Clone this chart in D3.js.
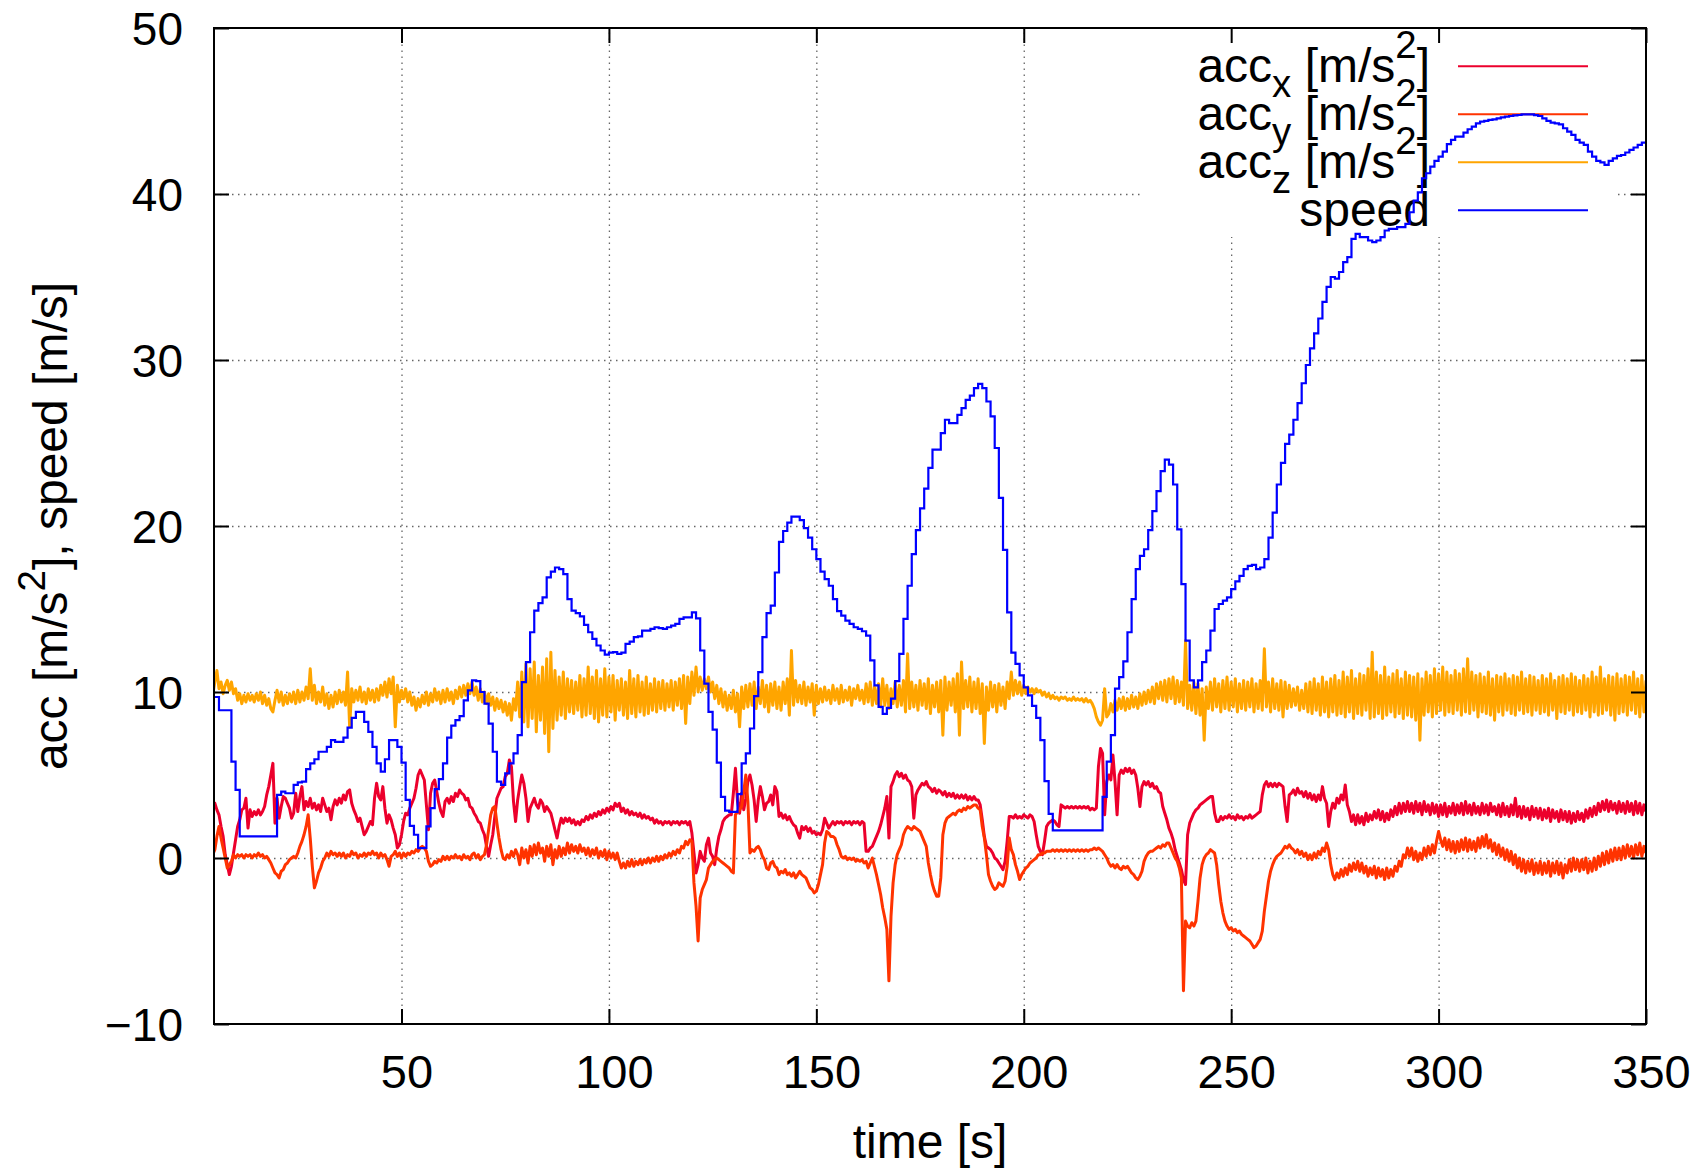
<!DOCTYPE html>
<html><head><meta charset="utf-8">
<script src="https://cdn.jsdelivr.net/npm/d3@7"></script>
<style>
html,body{margin:0;padding:0;background:#fff;}
svg{display:block;}
text{font-family:"Liberation Sans",Arial,Helvetica,sans-serif;fill:#000;}
</style></head><body>
<svg id="chart" width="1702" height="1172"></svg>
<script>
// ---------------- DATA ----------------
// accelerations sampled every 0.5 s starting at t = 4.5 s
const accT0 = 4.5, accStep = 0.5;
const accX = [
3.0,3.3,2.9,2.6,1.9,1.3,0.2,-0.4,-1.0,-0.5,0.3,1.1,1.9,2.3,2.9,3.0,3.6,1.8,2.9,2.5,
2.8,2.6,2.9,2.6,2.8,3.1,3.8,4.3,5.0,5.7,2.1,3.6,2.4,3.1,3.7,3.6,3.3,3.0,2.4,2.7,
3.9,2.8,3.7,4.3,2.9,3.4,3.1,3.6,3.0,3.3,2.9,3.2,2.8,3.6,3.2,2.8,3.0,2.3,3.1,3.5,
3.2,3.6,3.3,3.8,3.5,4.0,4.1,3.3,2.9,2.6,2.2,2.4,1.9,1.4,1.6,1.9,2.2,2.0,3.6,4.5,
3.7,3.5,4.3,3.0,2.1,2.6,2.3,1.8,1.4,0.6,0.8,1.4,2.2,2.7,2.6,3.0,3.3,3.6,4.2,5.0,
5.3,5.0,4.7,3.2,1.7,3.9,4.5,4.7,4.0,3.3,2.8,2.5,3.4,3.6,3.3,3.7,3.4,3.9,3.7,4.1,
3.9,3.8,3.5,3.6,3.1,3.0,2.7,2.5,2.2,2.1,1.7,1.4,0.7,0.1,0.8,1.4,2.5,3.6,3.9,4.2,
4.3,4.9,5.1,5.9,5.5,3.4,2.2,3.5,4.3,5.0,4.5,3.6,2.2,3.0,3.3,3.6,3.2,3.0,3.5,3.3,
2.8,3.1,2.9,2.7,2.2,1.7,1.2,1.9,2.4,2.1,2.4,2.2,2.4,2.1,2.3,2.0,2.2,2.0,2.3,2.2,
2.5,2.3,2.6,2.4,2.7,2.5,2.8,2.6,2.9,2.7,3.0,2.8,3.1,2.9,3.3,3.1,3.3,2.8,3.0,2.7,
2.9,2.6,2.8,2.6,2.7,2.5,2.7,2.4,2.6,2.4,2.5,2.3,2.4,2.1,2.3,2.1,2.2,2.0,2.2,2.1,
2.2,2.0,2.2,2.1,2.2,2.0,2.2,2.1,2.2,2.0,2.2,1.5,0.3,-0.9,-0.4,0.4,0.0,-0.2,0.8,1.2,
0.3,0.1,-0.4,0.6,1.3,1.7,2.2,2.4,2.5,2.6,2.6,3.9,5.4,3.4,2.7,3.9,2.9,3.6,4.6,5.0,
4.4,3.5,2.2,3.5,4.3,3.7,2.9,3.3,3.4,3.8,3.2,4.3,4.0,2.5,2.7,2.4,2.6,2.3,2.5,2.2,
2.0,1.9,1.5,1.2,1.9,1.7,1.9,1.6,1.8,1.5,1.6,1.4,1.5,1.4,1.7,2.4,2.1,1.8,2.0,2.2,
2.0,2.2,2.1,2.2,2.0,2.2,2.1,2.2,2.0,2.2,2.1,2.2,2.0,2.2,2.1,0.4,0.4,0.6,0.7,1.0,
1.3,1.6,2.0,2.5,3.0,3.7,1.2,4.3,4.6,5.0,5.2,4.9,5.1,4.8,5.0,4.7,4.6,4.3,2.4,3.8,
4.1,4.3,4.5,4.4,4.6,4.3,4.2,4.0,4.2,3.9,4.1,4.0,3.8,4.0,3.7,3.9,3.7,3.9,3.6,3.8,
3.6,3.8,3.6,3.8,3.5,3.7,3.5,3.7,3.5,3.5,3.2,2.3,1.3,0.7,0.6,0.5,0.3,0.0,-0.1,-0.3,
-0.5,-0.7,-0.2,1.0,2.5,2.5,2.4,2.6,2.4,2.5,2.4,2.6,2.5,2.4,2.6,2.5,2.2,1.4,0.7,0.4,
0.2,1.0,1.9,2.1,2.2,2.3,2.2,2.0,1.9,3.2,3.1,3.0,3.1,3.0,3.1,3.0,3.1,3.0,3.1,3.0,
3.1,3.0,3.1,2.9,3.0,2.9,3.0,5.5,6.6,6.3,2.6,4.6,5.0,4.7,6.2,4.6,2.6,5.0,5.3,5.1,
5.4,5.2,5.4,5.1,5.3,5.0,4.2,3.1,4.3,4.6,4.4,4.6,4.3,4.5,4.2,4.3,4.0,3.9,3.1,2.7,
2.3,1.8,1.5,1.1,0.5,0.1,-0.3,-0.7,-1.3,-1.6,1.4,2.1,2.4,2.7,2.9,3.0,3.2,3.3,3.4,3.5,
3.6,3.7,3.7,2.7,2.2,2.2,2.5,2.3,2.5,2.4,2.6,2.4,2.5,2.3,2.6,2.4,2.5,2.3,2.5,2.4,
2.6,2.4,2.5,2.6,2.7,2.8,3.8,4.4,4.6,4.3,4.5,4.3,4.5,4.3,4.5,4.4,4.3,3.1,2.2,3.8,
3.9,4.1,3.8,4.2,3.9,4.0,3.7,4.0,3.6,3.9,3.5,3.8,3.4,3.8,3.5,4.3,3.6,3.3,1.9,2.8,
3.3,3.0,3.6,3.3,3.8,3.5,4.4,3.2,2.8,2.2,2.6,2.0,2.6,2.1,2.5,2.0,2.7,2.2,2.6,2.3,
2.8,2.4,2.9,2.3,2.8,2.2,2.7,2.3,2.9,2.5,3.1,2.6,3.3,2.7,3.3,2.8,3.4,2.8,3.3,2.7,
3.4,2.8,3.3,2.6,3.4,2.8,3.2,2.6,3.3,2.7,3.2,2.5,3.2,2.6,3.3,2.5,3.1,2.7,3.3,2.6,
3.2,2.7,3.3,2.6,3.4,2.7,3.2,2.6,3.3,2.7,3.1,2.6,3.3,2.7,3.2,2.6,3.3,2.8,3.1,2.6,
3.2,2.5,3.3,2.6,3.1,2.5,3.2,2.6,3.6,2.5,3.1,2.4,3.1,2.5,3.0,2.3,3.1,2.5,3.0,2.4,
3.0,2.3,2.9,2.4,3.0,2.2,2.9,2.4,2.8,2.2,2.9,2.3,2.8,2.2,2.8,2.1,2.7,2.2,2.8,2.3,
2.7,2.2,2.9,2.4,3.0,2.5,3.1,2.6,3.3,2.8,3.4,2.9,3.5,2.8,3.4,2.9,3.3,2.7,3.4,2.8,
3.3,2.7,3.4,2.8,3.3,2.6,3.4,2.7,3.3,2.6,3.2,2.8
];
const accY = [
0.2,0.5,1.3,1.9,1.2,0.6,0.0,-0.6,-0.4,-0.2,0.2,0.0,0.2,0.1,0.2,0.0,0.2,0.1,0.2,0.0,
0.2,0.1,0.3,0.1,0.2,0.0,0.1,-0.1,-0.3,-0.6,-0.9,-1.0,-1.2,-0.8,-0.7,-0.4,-0.3,-0.1,0.0,0.1,
0.0,0.3,0.7,1.0,1.4,1.9,2.6,1.2,-0.5,-1.8,-1.4,-0.9,-0.6,-0.2,0.0,0.3,0.1,0.4,0.2,0.3,
0.1,0.3,0.1,0.3,0.0,0.2,0.1,0.4,0.2,0.3,0.0,0.2,0.1,0.3,0.1,0.3,0.2,0.4,0.2,0.3,
0.0,0.3,0.1,0.2,-0.1,-0.5,0.1,0.2,0.4,0.1,0.3,0.0,0.3,0.1,0.3,0.2,0.4,0.3,0.5,0.4,
0.6,0.7,0.6,0.4,-0.2,-0.5,-0.4,-0.2,-0.3,-0.1,-0.2,0.1,-0.1,0.1,-0.1,0.1,0.0,0.2,0.0,0.1,
-0.1,0.2,0.0,0.1,-0.1,0.2,0.3,0.0,0.2,-0.1,0.1,0.2,0.8,1.7,2.6,3.0,3.1,2.1,1.2,0.5,
0.0,-0.1,0.2,0.0,0.4,0.1,0.5,0.2,-0.4,0.6,0.0,0.5,-0.3,0.7,0.1,0.8,0.2,0.9,0.3,0.6,
-0.2,0.7,0.1,0.8,-0.4,0.5,0.0,0.7,0.1,0.6,0.2,0.9,0.3,0.8,0.4,0.7,0.3,0.8,0.4,0.6,
0.2,0.6,0.1,0.5,0.2,0.6,0.0,0.4,0.1,0.5,-0.1,0.4,0.0,0.3,-0.1,0.3,-0.2,-0.6,-0.3,-0.6,
-0.2,-0.5,-0.1,-0.5,-0.2,-0.4,-0.1,-0.4,-0.1,-0.3,0.0,-0.3,0.0,-0.2,0.1,-0.2,0.1,-0.1,0.2,0.0,
0.3,0.1,0.4,0.2,0.5,0.3,0.7,0.6,1.0,0.8,1.1,1.0,-1.5,-2.9,-5.0,-2.4,-1.9,-1.6,-1.3,-0.6,
-0.4,-0.2,-0.1,0.0,-0.1,-0.2,-0.3,-0.4,-0.5,-0.6,-0.8,-0.9,2.6,2.8,2.9,3.1,4.0,5.0,3.4,0.3,
0.5,0.4,0.6,0.7,0.5,0.1,-0.1,-0.6,-0.7,-0.3,-0.2,-0.5,-0.6,-1.0,-0.8,-0.9,-0.7,-1.0,-0.9,-1.1,
-0.9,-1.2,-1.0,-0.8,-1.0,-1.1,-1.2,-1.5,-1.8,-1.9,-2.1,-2.0,-1.6,-1.0,-0.4,0.9,1.6,1.5,1.3,1.3,
1.2,0.8,0.5,0.1,0.0,0.1,-0.1,0.0,-0.1,0.0,-0.2,-0.1,-0.2,-0.1,-0.3,-0.2,-0.6,-0.3,0.0,-0.5,
-1.0,-1.6,-2.2,-3.0,-3.6,-4.3,-7.4,-3.5,-1.5,-0.4,0.2,0.5,0.8,1.4,1.7,1.9,1.8,1.7,1.9,1.8,
1.7,1.6,1.3,1.0,0.7,-0.3,-1.0,-1.6,-2.0,-2.3,-2.3,-1.2,1.4,2.1,2.4,2.5,2.6,2.7,2.6,2.8,
2.9,2.8,3.0,2.9,3.1,3.0,3.1,3.2,3.2,3.0,2.9,1.9,1.2,0.2,-1.0,-1.4,-1.7,-1.9,-1.8,-1.5,
-1.6,-1.7,-1.4,-0.5,1.2,0.5,0.2,-0.4,-0.8,-1.3,-1.0,-0.8,-0.6,-0.5,-0.3,-0.2,-0.1,0.0,0.2,0.2,
0.3,0.3,0.4,0.4,0.4,0.5,0.4,0.5,0.4,0.5,0.4,0.5,0.4,0.5,0.4,0.5,0.4,0.5,0.4,0.5,
0.4,0.5,0.4,0.5,0.5,0.6,0.5,0.6,0.5,0.4,0.2,0.0,-0.3,-0.5,-0.4,-0.6,-0.4,-0.6,-0.7,-0.5,
-0.6,-0.5,-0.7,-0.9,-1.0,-1.2,-1.3,-1.1,-0.8,-0.2,0.1,0.3,0.4,0.4,0.5,0.6,0.7,0.6,0.8,0.7,
0.9,0.9,0.6,0.3,0.0,-0.2,-0.6,-1.2,-8.0,-3.8,-4.1,-4.2,-3.9,-4.1,-3.8,-2.6,-1.2,-0.4,0.0,0.2,
0.3,0.5,0.4,0.3,-0.4,-1.6,-2.6,-3.3,-3.8,-4.1,-4.3,-4.2,-4.4,-4.3,-4.5,-4.4,-4.6,-4.7,-4.8,-4.9,
-5.0,-5.2,-5.4,-5.3,-5.1,-4.9,-4.4,-3.2,-2.3,-1.4,-0.8,-0.4,-0.1,0.1,0.2,0.3,0.5,0.7,0.6,0.8,
0.6,0.5,0.3,0.5,0.2,0.4,0.1,0.3,-0.1,0.2,-0.1,0.3,0.0,0.4,0.2,0.6,0.4,0.9,0.5,-0.4,
-1.0,-1.3,-0.9,-1.2,-0.7,-1.1,-0.6,-1.0,-0.4,-0.8,-0.3,-0.7,-0.2,-0.8,-0.3,-0.9,-0.5,-1.1,-0.6,-1.0,
-0.5,-1.2,-0.6,-1.1,-0.7,-1.3,-0.6,-1.2,-0.7,-1.1,-0.5,-0.8,-0.2,-0.5,0.2,0.0,0.6,0.1,0.6,-0.1,
0.4,-0.2,0.3,-0.1,0.6,0.1,0.7,0.2,0.8,0.3,1.0,1.6,1.1,0.7,1.2,0.5,1.1,0.4,1.0,0.3,
1.0,0.4,1.1,0.5,1.2,0.4,1.1,0.5,1.0,0.4,1.2,0.6,1.3,0.7,1.4,0.6,1.1,0.4,0.9,0.2,
0.8,0.1,0.6,-0.1,0.5,-0.2,0.4,-0.4,0.2,-0.6,0.0,-0.8,-0.1,-0.9,-0.2,-0.8,-0.1,-1.0,-0.3,-0.9,
-0.2,-1.0,-0.3,-0.9,-0.2,-1.1,-0.3,-0.9,-0.2,-1.0,-0.3,-1.2,-0.4,-0.9,-0.1,-0.8,0.0,-0.7,-0.1,-0.8,
-0.1,-0.7,0.0,-0.9,-0.2,-0.8,0.0,-0.7,0.1,-0.5,0.3,-0.4,0.4,-0.3,0.5,-0.2,0.6,-0.1,0.6,-0.1,
0.7,0.0,0.8,0.1,0.7,0.0,0.8,0.2,0.9,0.1,0.7,0.3
];
const accZ = [
9.8,10.6,11.3,10.2,10.6,9.9,10.4,10.7,10.1,10.6,9.9,10.2,9.5,9.9,9.3,9.8,9.4,9.9,9.5,9.8,
9.4,9.9,9.5,10.0,9.3,9.8,9.2,9.6,9.0,8.8,9.5,10.1,9.4,10.0,9.2,9.8,9.3,9.9,9.4,10.0,
9.3,10.1,9.4,10.0,9.5,10.3,9.6,11.4,9.5,10.4,9.3,10.0,9.4,10.3,9.2,9.9,9.0,9.8,9.1,10.0,
9.3,10.1,9.4,10.0,9.2,11.2,7.9,10.2,9.4,10.1,9.5,10.3,9.4,10.0,9.3,10.2,9.5,10.1,9.4,10.2,
9.5,10.4,9.8,10.6,9.7,10.8,9.9,10.9,7.9,10.4,9.4,10.1,9.6,10.2,9.4,10.0,9.2,9.7,8.9,9.6,
9.1,9.8,9.3,10.0,9.2,9.9,9.4,10.2,9.5,10.0,9.3,10.1,9.4,10.2,9.5,10.0,9.3,10.1,9.6,10.3,
9.7,10.4,9.8,10.5,9.9,10.6,9.8,10.3,9.5,10.2,9.4,10.0,9.3,9.9,9.2,9.7,8.9,9.6,9.0,9.5,
8.8,9.4,8.6,9.3,8.3,9.6,8.9,10.6,8.5,11.2,8.2,11.7,7.9,11.4,8.4,11.8,7.6,11.0,8.3,11.5,
7.5,12.0,6.4,12.4,7.8,11.3,8.3,10.9,8.6,11.2,8.4,10.8,8.8,10.7,8.7,10.6,8.9,11.0,8.5,10.8,
8.6,11.5,8.7,10.9,8.4,11.3,8.2,10.8,8.6,11.4,8.5,10.9,8.8,11.0,8.3,10.7,8.9,10.8,8.6,10.6,
8.4,11.3,8.7,10.8,8.5,11.0,8.8,10.6,8.6,10.9,8.7,10.5,8.9,10.8,8.8,10.6,9.0,10.7,8.9,10.5,
9.1,10.7,8.9,10.6,9.2,10.8,9.0,11.0,8.1,10.9,9.3,11.2,9.8,11.5,10.0,10.9,10.1,10.8,10.2,10.9,
10.0,10.6,9.6,10.4,9.3,10.2,9.1,10.0,8.9,9.8,9.0,10.1,8.8,9.9,7.9,10.3,9.0,10.4,9.1,10.5,
9.2,10.6,9.0,10.3,9.3,10.7,9.1,10.4,8.8,10.5,9.2,10.6,9.0,10.3,8.9,10.6,9.3,10.8,8.6,12.5,
9.2,10.7,9.4,10.4,9.3,10.6,9.2,10.3,9.4,10.5,8.6,10.4,9.3,10.2,9.4,10.3,9.5,10.1,9.3,10.4,
9.5,10.2,9.3,10.4,9.4,10.1,9.5,10.3,9.2,10.2,9.6,10.4,9.5,10.1,9.3,10.5,9.4,10.6,9.2,10.3,
9.3,10.5,9.1,10.8,9.2,10.4,9.0,10.2,9.3,10.6,9.1,10.4,9.2,10.7,8.8,12.3,9.0,10.6,9.1,10.4,
8.9,10.7,9.2,10.5,9.0,10.8,8.7,10.4,9.1,10.6,8.8,10.7,7.4,10.9,8.9,10.6,9.2,10.8,8.8,11.1,
7.4,11.8,9.0,10.7,9.1,10.9,8.8,10.6,9.0,10.8,8.7,10.5,6.9,10.3,8.9,10.6,9.1,10.4,8.8,10.5,
9.2,10.3,9.0,10.6,9.6,11.2,9.8,10.7,9.9,10.6,9.8,10.4,9.9,10.3,10.0,10.2,9.9,10.2,10.0,10.1,
9.8,10.0,9.7,9.9,9.6,9.8,9.6,9.7,9.5,9.7,9.6,9.7,9.5,9.6,9.5,9.7,9.5,9.6,9.5,9.6,
9.4,9.6,9.4,9.5,9.3,9.0,8.5,8.2,8.0,8.3,10.2,8.5,8.7,9.3,8.8,9.5,8.9,9.6,9.0,9.7,
8.9,9.6,9.0,9.8,9.1,9.7,9.0,9.9,9.2,10.0,9.3,10.1,9.4,10.3,9.3,10.5,9.6,10.6,9.5,10.7,
9.4,10.8,9.6,10.9,9.3,10.7,9.4,10.6,9.2,13.1,9.0,10.4,8.9,10.6,8.7,10.5,8.6,10.2,7.1,10.3,
9.0,10.6,8.9,10.8,9.1,10.5,8.8,10.7,9.0,10.9,8.9,10.6,9.1,10.8,8.8,10.5,9.0,10.7,8.9,10.6,
9.1,10.8,8.8,10.5,9.0,10.7,8.9,12.6,9.1,10.6,8.8,10.8,9.0,10.5,8.9,10.7,8.5,10.6,9.0,10.4,
9.1,10.2,9.2,10.3,8.9,10.1,9.0,10.5,8.8,10.6,8.7,10.8,8.9,10.5,8.6,10.9,8.8,10.6,8.5,10.8,
8.8,11.0,8.6,10.7,8.7,11.2,8.5,10.9,8.8,11.3,8.4,10.8,8.7,11.1,8.6,11.0,8.9,11.4,8.4,12.4,
8.5,11.2,8.7,11.0,8.4,11.5,8.6,10.9,8.8,11.1,8.5,11.3,8.7,10.8,8.4,11.2,8.6,11.0,8.5,10.9,
8.3,11.1,7.1,10.8,8.6,11.2,8.8,11.0,8.5,11.4,8.7,11.1,8.9,11.5,8.6,11.2,8.8,11.0,8.7,11.3,
8.9,11.1,8.6,11.4,8.8,12.0,8.7,11.2,8.9,11.0,8.5,11.1,8.8,10.9,8.7,11.2,8.6,10.8,8.3,11.0,
8.8,10.9,8.6,11.1,8.9,10.8,8.7,11.0,8.6,10.9,8.9,11.2,8.7,10.8,8.8,11.0,8.6,10.9,8.9,10.7,
8.7,11.0,8.8,10.8,8.6,11.1,8.9,10.7,8.4,10.9,8.8,11.0,8.7,10.8,8.9,11.1,8.6,10.9,8.8,10.7,
8.7,11.0,8.9,10.8,8.5,11.2,8.8,10.9,8.6,11.5,8.7,10.8,8.9,11.0,8.6,10.9,8.3,11.1,8.7,10.8,
8.8,11.0,8.6,10.9,8.9,11.2,8.7,10.8,8.5,11.0,8.8,10.7
];
// GPS speed, one value per second from t = 5 s (drawn as steps)
const speedT0 = 5, speedStep = 1;
const speed = [
9.7,8.9,8.9,8.9,5.8,4.1,1.3,1.3,1.3,1.3,
1.3,1.3,1.3,1.3,1.3,3.8,4.0,3.9,3.9,4.4,
4.56,4.6,5.35,5.7,5.95,6.4,6.4,6.7,7.1,7.0,
7.0,7.25,7.85,8.44,8.8,8.8,8.2,7.6,6.7,5.7,
5.2,5.95,7.1,7.1,6.7,5.75,3.5,1.94,1.4,0.6,
0.6,1.9,3.0,4.15,4.75,5.7,7.25,7.97,8.3,8.55,
9.5,10.1,10.7,10.66,10.0,9.3,8.1,6.4,4.6,4.4,
5.1,5.7,6.3,7.4,10.6,11.8,13.6,14.9,15.35,15.7,
16.9,17.25,17.5,17.4,17.1,15.6,14.9,14.75,14.56,14.04,
13.6,13.2,12.8,12.5,12.25,12.37,12.4,12.3,12.37,12.9,
13.04,13.3,13.35,13.7,13.7,13.8,13.9,13.85,13.8,13.9,
14.0,14.1,14.4,14.5,14.5,14.8,14.44,12.5,10.5,8.8,
7.73,5.75,3.68,2.85,2.78,2.78,3.85,5.7,6.3,7.8,
9.75,11.2,13.3,14.75,15.2,17.2,19.04,19.7,20.2,20.56,
20.56,20.35,19.87,19.3,18.6,18.0,17.25,16.8,16.4,15.6,
14.87,14.6,14.3,14.1,13.9,13.8,13.66,13.4,11.9,10.4,
9.1,8.68,9.04,9.6,10.66,12.3,14.4,16.4,18.3,19.75,
21.06,22.25,23.5,24.6,24.6,25.6,26.4,26.2,26.2,26.7,
27.1,27.6,27.85,28.3,28.56,28.3,27.5,26.6,24.7,21.7,
18.56,14.8,12.37,11.7,11.0,10.28,9.8,9.16,8.44,7.1,
4.63,2.66,1.66,1.66,1.66,1.66,1.66,1.66,1.66,1.66,
1.66,1.66,1.66,1.66,3.68,5.8,7.4,10.2,10.9,11.85,
13.6,15.6,17.4,18.2,18.6,19.75,20.9,22.1,23.3,24.0,
23.7,22.5,19.8,16.5,13.1,10.7,10.28,10.7,11.8,12.5,
13.7,15.0,15.3,15.5,15.7,16.2,16.66,17.0,17.4,17.6,
17.66,17.4,17.5,18.0,19.3,20.8,22.5,23.8,24.95,25.5,
26.4,27.4,28.6,29.7,30.7,31.6,32.5,33.5,34.4,35.0,
34.9,35.3,35.9,36.2,37.3,37.6,37.4,37.4,37.2,37.1,
37.2,37.4,37.8,37.9,37.9,38.0,38.0,38.2,38.9,39.6,
40.1,40.95,41.25,41.65,42.0,42.25,42.55,43.0,43.26,43.46,
43.46,43.7,43.9,44.06,44.26,44.36,44.4,44.46,44.5,44.56,
44.62,44.66,44.7,44.74,44.76,44.8,44.8,44.8,44.75,44.7,
44.56,44.4,44.3,44.26,44.2,43.96,43.76,43.56,43.26,43.1,
42.96,42.55,42.25,42.0,41.9,41.75,42.0,42.15,42.3,42.35,
42.5,42.66,42.8,42.96,43.1,43.1
];
const xTickValues = [50,100,150,200,250,300,350];
const yTickValues = [-10,0,10,20,30,40,50];
const xTickLabels = ["50","100","150","200","250","300","350"];
const yTickLabels = ["\u221210","0","10","20","30","40","50"];
const seriesKeys = ["accX","accY","accZ","speed"];
const seriesColors = ["#ec002c","#ff3300","#ffa500","#0000ff"];
const legendSubs = ["x","y","z",null];

// ---------------- CHART ----------------
const W = 1702, H = 1172;
const M = {l:214, r:1646, t:28, b:1024};
const FS_Y = 46, FS_X = 47, FS_T = 48;
const svg = d3.select("#chart");
svg.append("rect").attr("width",W).attr("height",H).attr("fill","#fff");

const x = d3.scaleLinear().domain([4.8,350]).range([M.l,M.r]);
const y = d3.scaleLinear().domain([-10,50]).range([M.b,M.t]);

// grid
const gx = svg.append("g").attr("transform",`translate(0,${M.b})`)
  .call(d3.axisBottom(x).tickValues(xTickValues.slice(0,-1)).tickSize(-(M.b-M.t)).tickFormat(""));
gx.select(".domain").remove();
gx.selectAll("line").attr("stroke","#666").attr("stroke-width",1.3).attr("stroke-dasharray","1.5,4.5");
const gy = svg.append("g").attr("transform",`translate(${M.l},0)`)
  .call(d3.axisLeft(y).tickValues(yTickValues.slice(1,-1)).tickSize(-(M.r-M.l)).tickFormat(""));
gy.select(".domain").remove();
gy.selectAll("line").attr("stroke","#666").attr("stroke-width",1.3).attr("stroke-dasharray","1.5,4.5");

// key area masks the grid
svg.append("rect").attr("x",1142).attr("y",M.t+1).attr("width",473).attr("height",208).attr("fill","#fff");

// legend
const legX = 1430, legLine0 = 1458, legLine1 = 1588;
seriesKeys.forEach((k,i)=>{
  const ly = 66.3 + 48*i;
  const t = svg.append("text").attr("x",legX).attr("y",ly+16).attr("text-anchor","end").attr("font-size",FS_T);
  if (legendSubs[i]) {
    t.append("tspan").text("acc");
    t.append("tspan").attr("font-size",FS_T*0.8).attr("dy",15).text(legendSubs[i]);
    t.append("tspan").attr("dy",-15).text(" [m/s");
    t.append("tspan").attr("font-size",FS_T*0.8).attr("dy",-24).text("2");
    t.append("tspan").attr("dy",24).text("]");
  } else {
    t.text("speed");
  }
  svg.append("line").attr("x1",legLine0).attr("x2",legLine1).attr("y1",ly).attr("y2",ly)
    .attr("stroke",seriesColors[i]).attr("stroke-width",2);
});

// data
svg.append("clipPath").attr("id","clip").append("rect")
  .attr("x",M.l).attr("y",M.t).attr("width",M.r-M.l).attr("height",M.b-M.t);
const plot = svg.append("g").attr("clip-path","url(#clip)");
const line = d3.line().x(d=>x(d[0])).y(d=>y(d[1]));
const stepLine = d3.line().x(d=>x(d[0])).y(d=>y(d[1])).curve(d3.curveStepAfter);
const accSeries = [accX, accY, accZ];
accSeries.forEach((arr,i)=>{
  const pts = arr.map((v,j)=>[accT0 + j*accStep, v]);
  plot.append("path").attr("d",line(pts)).attr("fill","none")
    .attr("stroke",seriesColors[i]).attr("stroke-width",3).attr("stroke-linejoin","round");
});
const spPts = speed.map((v,j)=>[speedT0 + j*speedStep, v]);
plot.append("path").attr("d",stepLine(spPts)).attr("fill","none")
  .attr("stroke",seriesColors[3]).attr("stroke-width",2.2);

// axes (inward ticks, mirrored)
function styleAxis(g){
  g.select(".domain").remove();
  g.attr("font-family",null).attr("font-size",null);
  g.selectAll(".tick line").attr("stroke","#000").attr("stroke-width",2);
}
const ab = svg.append("g").attr("transform",`translate(0,${M.b})`)
  .call(d3.axisBottom(x).tickValues(xTickValues).tickSize(-15).tickFormat((d,i)=>xTickLabels[i]));
styleAxis(ab);
ab.selectAll(".tick text").attr("y",64).attr("dy",null).attr("x",5).attr("font-size",FS_X);
const al = svg.append("g").attr("transform",`translate(${M.l},0)`)
  .call(d3.axisLeft(y).tickValues(yTickValues).tickSize(-15).tickFormat((d,i)=>yTickLabels[i]));
styleAxis(al);
al.selectAll(".tick text").attr("x",-31).attr("dy","0.36em").attr("font-size",FS_Y);
const at = svg.append("g").attr("transform",`translate(0,${M.t})`)
  .call(d3.axisTop(x).tickValues(xTickValues).tickSize(-15).tickFormat(""));
styleAxis(at);
const ar = svg.append("g").attr("transform",`translate(${M.r},0)`)
  .call(d3.axisRight(y).tickValues(yTickValues).tickSize(-15).tickFormat(""));
styleAxis(ar);

svg.append("rect").attr("x",M.l).attr("y",M.t).attr("width",M.r-M.l).attr("height",M.b-M.t)
  .attr("fill","none").attr("stroke","#000").attr("stroke-width",2);

// axis titles
svg.append("text").attr("x",(M.l+M.r)/2).attr("y",1158).attr("text-anchor","middle")
  .attr("font-size",FS_T).text("time [s]");
const yl = svg.append("text").attr("transform",`translate(67,${(M.t+M.b)/2}) rotate(-90)`)
  .attr("text-anchor","middle").attr("font-size",FS_T);
yl.append("tspan").text("acc [m/s");
yl.append("tspan").attr("font-size",FS_T*0.8).attr("dy",-22).text("2");
yl.append("tspan").attr("dy",22).text("], speed [m/s]");
</script>
</body></html>
